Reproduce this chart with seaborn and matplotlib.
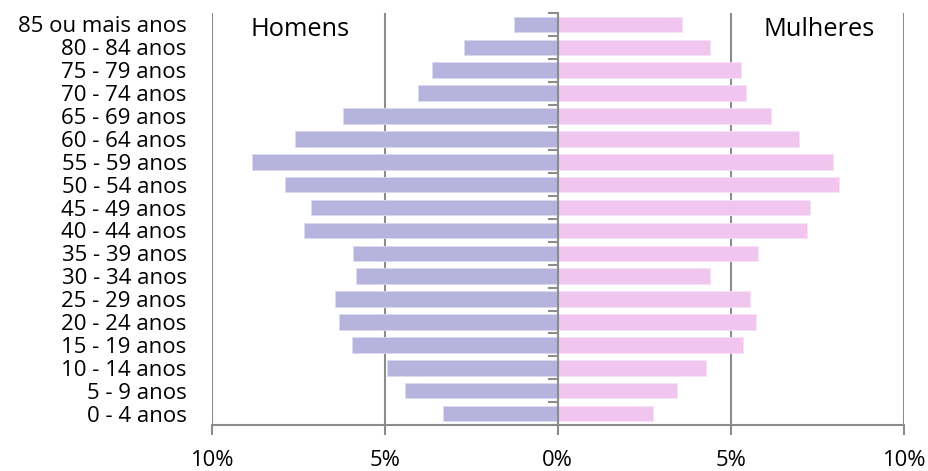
import numpy as np
import pandas as pd
import seaborn as sns
import matplotlib.pyplot as plt
from matplotlib.ticker import FixedLocator, FuncFormatter

# Age groups, top to bottom
faixas = ["85 ou mais anos", "80 - 84 anos", "75 - 79 anos", "70 - 74 anos",
          "65 - 69 anos", "60 - 64 anos", "55 - 59 anos", "50 - 54 anos",
          "45 - 49 anos", "40 - 44 anos", "35 - 39 anos", "30 - 34 anos",
          "25 - 29 anos", "20 - 24 anos", "15 - 19 anos", "10 - 14 anos",
          "5 - 9 anos", "0 - 4 anos"]

# Share of population (%) by sex
homens = [1.26, 2.71, 3.62, 4.03, 6.20, 7.59, 8.84, 7.88, 7.14,
          7.34, 5.93, 5.82, 6.44, 6.33, 5.96, 4.93, 4.42, 3.32]
mulheres = [3.58, 4.40, 5.31, 5.45, 6.16, 6.98, 7.95, 8.13, 7.28,
            7.21, 5.80, 4.40, 5.57, 5.74, 5.36, 4.28, 3.44, 2.76]

x_ticks = [-10, -5, 0, 5, 10]

sns.set_theme(style="white")
plt.rcParams["font.family"] = ["Open Sans", "DejaVu Sans"]

df = pd.DataFrame({"faixa": faixas,
                   "homens": -np.array(homens),
                   "mulheres": np.array(mulheres)})

fig = plt.figure(figsize=(9.29, 4.71), dpi=100)
ax = fig.add_axes([0.2279, 0.0977, 0.7449, 0.8747])

cor_h = "#b6b3dc"
cor_m = "#f0c5ee"
grid_c = "#8c8c8c"

sns.barplot(data=df, x="homens", y="faixa", order=faixas, orient="h",
            color=cor_h, saturation=1, width=0.68, ax=ax,
            edgecolor="#dcdaf0", linewidth=0.6)
sns.barplot(data=df, x="mulheres", y="faixa", order=faixas, orient="h",
            color=cor_m, saturation=1, width=0.68, ax=ax,
            edgecolor="#f8e2f6", linewidth=0.6)

ax.set_xlim(-10, 10)
ax.set_ylim(len(faixas) - 0.5, -0.5)
ax.set_xlabel("")
ax.set_ylabel("")

# vertical gridlines at the major ticks
ax.xaxis.set_major_locator(FixedLocator(x_ticks))
ax.xaxis.set_major_formatter(FuncFormatter(lambda v, p: f"{abs(int(v))}%"))
ax.grid(axis="x", color=grid_c, linewidth=1.5, zorder=0)
ax.set_axisbelow(True)

# spines: bottom axis and a central axis at zero
for s in ["top", "left"]:
    ax.spines[s].set_visible(False)
ax.spines["bottom"].set_color(grid_c)
ax.spines["bottom"].set_linewidth(1.5)
ax.spines["right"].set_position(("data", 0))
ax.spines["right"].set_color(grid_c)
ax.spines["right"].set_linewidth(1.5)
ax.spines["right"].set_zorder(5)

ax.tick_params(axis="x", which="major", bottom=True, length=7, width=1.5,
               color=grid_c, labelsize=15.8, pad=11, labelcolor="black")

# category labels on the left, boundary ticks on the centre axis
ax.set_yticks(range(len(faixas)))
ax.set_yticklabels(faixas)
ax.yaxis.set_minor_locator(FixedLocator(np.arange(-0.5, len(faixas), 1.0)))
ax.tick_params(axis="y", which="major", left=True, right=False, length=0,
               pad=18, labelsize=16, labelcolor="black")
ax.tick_params(axis="y", which="minor", left=False, right=True,
               direction="in", length=7, width=1.5, color=grid_c)

ax.text(-7.45, 0.2, "Homens", ha="center", va="center", fontsize=18.3,
        color="black")
ax.text(7.55, 0.2, "Mulheres", ha="center", va="center", fontsize=18.3,
        color="black")

fig.savefig("out.png", dpi=100, facecolor="white")
